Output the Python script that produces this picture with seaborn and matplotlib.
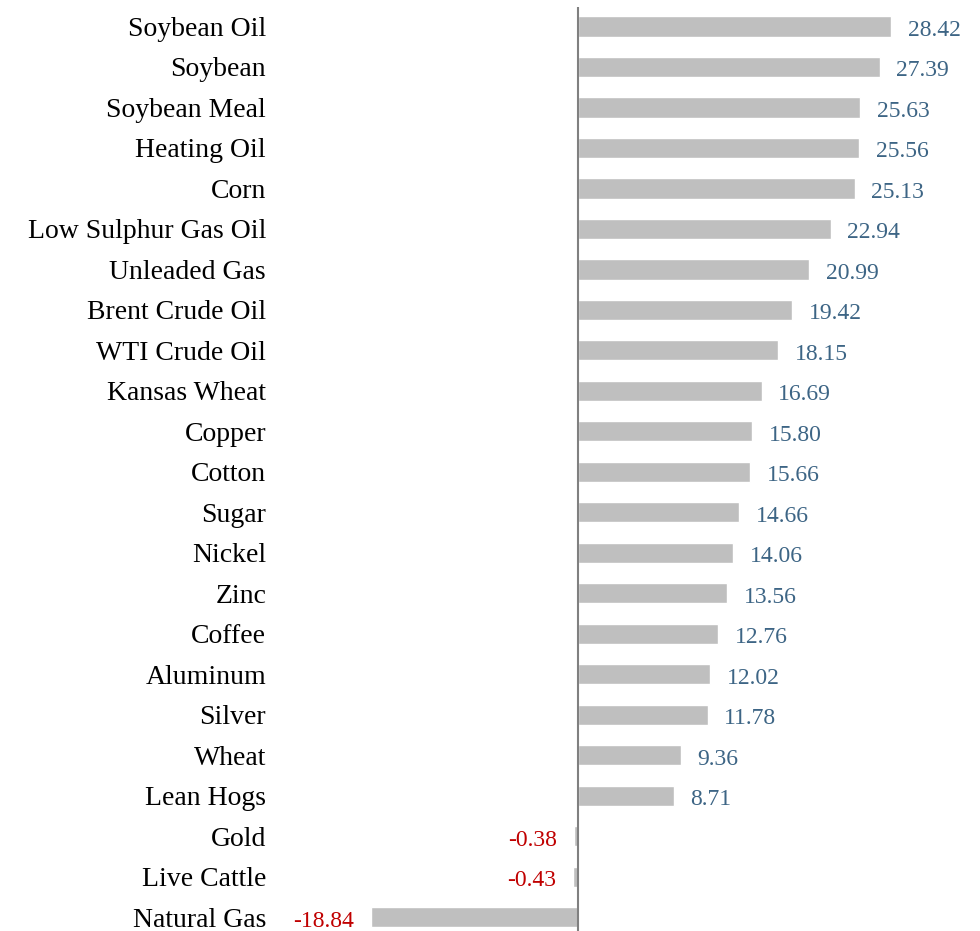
import numpy as np
import pandas as pd
import matplotlib.pyplot as plt
import seaborn as sns

commodities = ['Soybean Oil', 'Soybean', 'Soybean Meal', 'Heating Oil', 'Corn',
               'Low Sulphur Gas Oil', 'Unleaded Gas', 'Brent Crude Oil', 'WTI Crude Oil',
               'Kansas Wheat', 'Copper', 'Cotton', 'Sugar', 'Nickel', 'Zinc', 'Coffee',
               'Aluminum', 'Silver', 'Wheat', 'Lean Hogs', 'Gold', 'Live Cattle', 'Natural Gas']
returns = [28.42, 27.39, 25.63, 25.56, 25.13, 22.94, 20.99, 19.42, 18.15, 16.69, 15.80,
           15.66, 14.66, 14.06, 13.56, 12.76, 12.02, 11.78, 9.36, 8.71, -0.38, -0.43, -18.84]

df = pd.DataFrame({'Commodity': commodities, 'Return': returns})

sns.set_style('white')
plt.rcParams['font.family'] = ['Liberation Serif', 'DejaVu Serif']

fig = plt.figure(figsize=(9.8, 9.31), dpi=100)
# axes placed in pixel terms: left 280, right 975, top 7, bottom 931
ax = fig.add_axes([280 / 980, 0, 695 / 980, 924 / 931])

sns.barplot(data=df, y='Commodity', x='Return', color='#bfbfbf', width=0.5,
            saturation=1, orient='h', ax=ax)

ax.set_xlim(-27.07, 36.06)
ax.set_ylim(22.34, -0.48)
ax.axvline(0, color='#808080', lw=1.5)

for i, v in enumerate(returns):
    if v >= 0:
        ax.annotate(f'{v:.2f}', (v, i), xytext=(12, -1), textcoords='offset points',
                    ha='left', va='center_baseline', fontsize=17, color='#3d6585')
    else:
        ax.annotate(f'{v:.2f}', (v, i), xytext=(-12, -1), textcoords='offset points',
                    ha='right', va='center_baseline', fontsize=17, color='#c00000')

ax.set_xlabel('')
ax.set_ylabel('')
ax.set_xticks([])
ax.tick_params(axis='y', length=0, pad=10, labelsize=20, labelcolor='black')
sns.despine(ax=ax, left=True, bottom=True)

fig.savefig('out.png', dpi=100, facecolor='white')
